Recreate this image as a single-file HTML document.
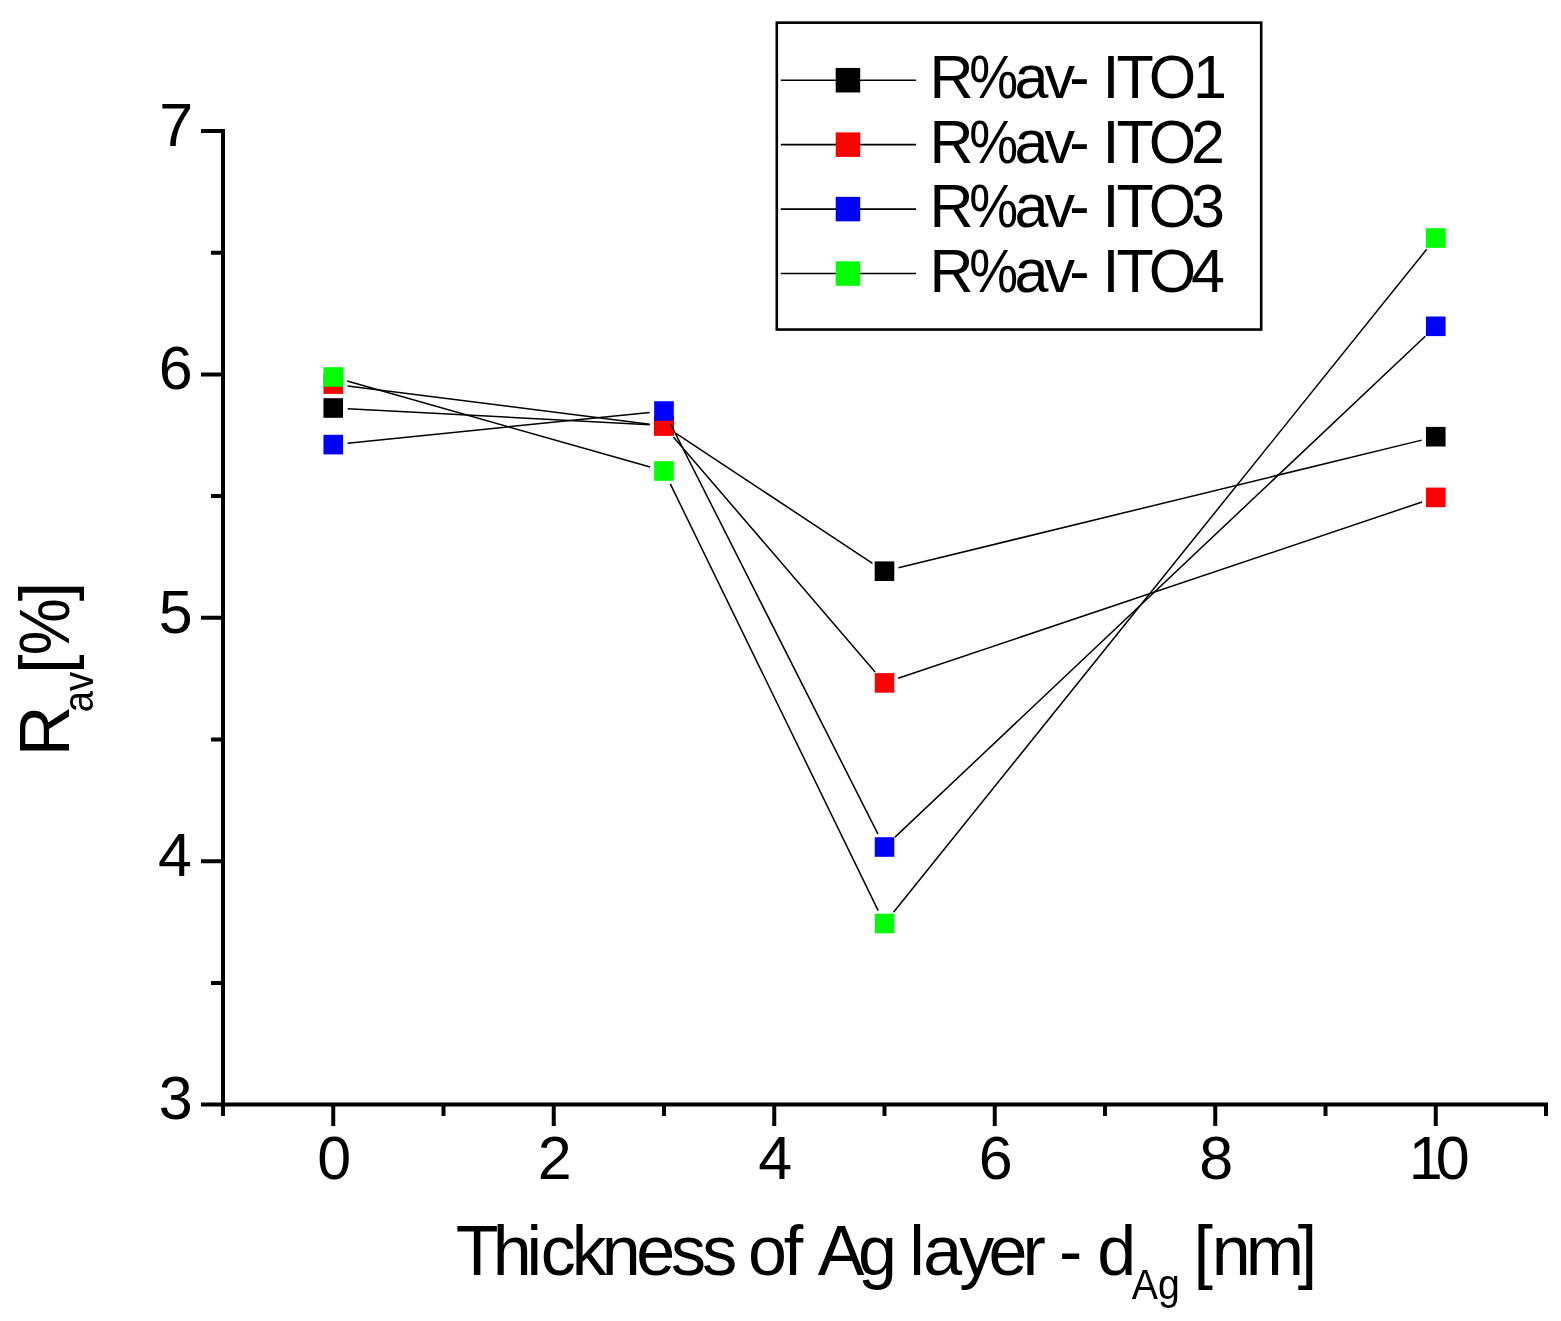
<!DOCTYPE html><html><head><meta charset="utf-8"><title>R_av vs Ag thickness</title><style>html,body{margin:0;padding:0;background:#fff;overflow:hidden;}svg{display:block;}text{font-family:"Liberation Sans",Arial,Helvetica,sans-serif;fill:#000;}</style></head><body>
<svg width="1561" height="1321" viewBox="0 0 1561 1321">
<rect width="1561" height="1321" fill="#fff"/>
<path d="M347.63 408.76L649.62 424.74M676.01 433.44L872.49 563.26M898.49 567.79L1421.76 440.11" stroke="#000" stroke-width="1.5" fill="none"/>
<rect x="323.45" y="398.20" width="19.6" height="19.6" fill="#000000"/>
<rect x="654.20" y="415.70" width="19.6" height="19.6" fill="#000000"/>
<rect x="874.70" y="561.40" width="19.6" height="19.6" fill="#000000"/>
<rect x="1425.95" y="426.90" width="19.6" height="19.6" fill="#000000"/>
<path d="M347.54 385.91L649.71 424.19M673.38 436.93L875.12 671.97M898.15 678.31L1422.10 501.99" stroke="#000" stroke-width="1.5" fill="none"/>
<rect x="323.45" y="374.30" width="19.6" height="19.6" fill="#ff0000"/>
<rect x="654.20" y="416.20" width="19.6" height="19.6" fill="#ff0000"/>
<rect x="874.70" y="673.10" width="19.6" height="19.6" fill="#ff0000"/>
<rect x="1425.95" y="487.60" width="19.6" height="19.6" fill="#ff0000"/>
<path d="M347.58 443.14L649.67 412.46M670.50 423.85L878.00 834.15M894.97 837.11L1425.28 336.19" stroke="#000" stroke-width="1.5" fill="none"/>
<rect x="323.45" y="434.80" width="19.6" height="19.6" fill="#0000ff"/>
<rect x="654.20" y="401.20" width="19.6" height="19.6" fill="#0000ff"/>
<rect x="874.70" y="837.20" width="19.6" height="19.6" fill="#0000ff"/>
<rect x="1425.95" y="316.50" width="19.6" height="19.6" fill="#0000ff"/>
<path d="M347.10 380.94L650.15 467.06M670.31 483.94L878.19 910.56M893.52 912.28L1426.73 249.22" stroke="#000" stroke-width="1.5" fill="none"/>
<rect x="323.45" y="367.20" width="19.6" height="19.6" fill="#00ff00"/>
<rect x="654.20" y="461.20" width="19.6" height="19.6" fill="#00ff00"/>
<rect x="874.70" y="913.70" width="19.6" height="19.6" fill="#00ff00"/>
<rect x="1425.95" y="228.20" width="19.6" height="19.6" fill="#00ff00"/>
<path d="M223 129V1106.5M201 1104.5H1548M201 1104.60H223M201 861.20H223M201 617.80H223M201 374.40H223M201 131.00H223M211 982.90H223M211 739.50H223M211 496.10H223M211 252.70H223M333.25 1104.5V1126M553.75 1104.5V1126M774.25 1104.5V1126M994.75 1104.5V1126M1215.25 1104.5V1126M1435.75 1104.5V1126M223.00 1104.5V1116M443.50 1104.5V1116M664.00 1104.5V1116M884.50 1104.5V1116M1105.00 1104.5V1116M1325.50 1104.5V1116M1546.00 1104.5V1116" stroke="#000" stroke-width="4" fill="none"/>
<text x="158.86" y="1119.40" font-size="61">3</text>
<text x="157.96" y="876.00" font-size="61">4</text>
<text x="158.74" y="632.60" font-size="61">5</text>
<text x="158.86" y="389.20" font-size="61">6</text>
<text x="159.24" y="145.80" font-size="61">7</text>
<text x="334.15" y="1179" font-size="61" text-anchor="middle">0</text>
<text x="554.65" y="1179" font-size="61" text-anchor="middle">2</text>
<text x="775.15" y="1179" font-size="61" text-anchor="middle">4</text>
<text x="995.65" y="1179" font-size="61" text-anchor="middle">6</text>
<text x="1216.15" y="1179" font-size="61" text-anchor="middle">8</text>
<text x="1408.8 1435.8" y="1179" font-size="61">10</text>
<text y="1274.9" font-size="70"><tspan x="455.73 492.65 526.62 540.73 571.68 601.75 636.33 671.05 702.35 732.85 747.96 783.81 798.76 817.86 858.06 892.49 909.28 923.33 959.23 988.43 1022.55 1041.36 1058.99 1077.80 1097.26">Thickness of Ag layer - d</tspan><tspan x="1131.82" y="1298.9" font-size="43" textLength="48.02" lengthAdjust="spacingAndGlyphs">Ag</tspan><tspan x="1186.40 1193.41 1211.65 1245.65 1297.65" y="1274.9"> [nm]</tspan></text>
<text transform="translate(68.9 752) rotate(-90)" font-size="70"><tspan x="-4.24" y="0">R</tspan><tspan x="39.68" y="23.6" font-size="43" textLength="40.3" lengthAdjust="spacingAndGlyphs">av</tspan><tspan x="77.91" y="0">[</tspan><tspan x="96.81" textLength="57.01" lengthAdjust="spacingAndGlyphs">%</tspan><tspan x="150.65">]</tspan></text>
<rect x="776.8" y="22.65" width="484.4" height="306.9" fill="none" stroke="#000" stroke-width="2.6"/>
<path d="M780.8 80.20H916.1" stroke="#000" stroke-width="1.6"/>
<rect x="835.7" y="67.95" width="24.5" height="24.5" fill="#000000"/>
<text y="98.00" font-size="61"><tspan x="929.60">R</tspan><tspan x="969.34" textLength="48.92" lengthAdjust="spacingAndGlyphs">%</tspan><tspan x="1014.41 1044.59 1069.29 1085.90 1102.57 1116.43 1148.81 1192.90">av- ITO1</tspan></text>
<path d="M780.8 144.65H916.1" stroke="#000" stroke-width="1.6"/>
<rect x="835.7" y="132.40" width="24.5" height="24.5" fill="#ff0000"/>
<text y="162.60" font-size="61"><tspan x="929.60">R</tspan><tspan x="969.34" textLength="48.92" lengthAdjust="spacingAndGlyphs">%</tspan><tspan x="1014.41 1044.59 1069.29 1085.90 1102.57 1116.43 1148.81 1191.00">av- ITO2</tspan></text>
<path d="M780.8 209.10H916.1" stroke="#000" stroke-width="1.6"/>
<rect x="835.7" y="196.85" width="24.5" height="24.5" fill="#0000ff"/>
<text y="227.20" font-size="61"><tspan x="929.60">R</tspan><tspan x="969.34" textLength="48.92" lengthAdjust="spacingAndGlyphs">%</tspan><tspan x="1014.41 1044.59 1069.29 1085.90 1102.57 1116.43 1148.81 1191.00">av- ITO3</tspan></text>
<path d="M780.8 273.55H916.1" stroke="#000" stroke-width="1.6"/>
<rect x="835.7" y="261.30" width="24.5" height="24.5" fill="#00ff00"/>
<text y="291.80" font-size="61"><tspan x="929.60">R</tspan><tspan x="969.34" textLength="48.92" lengthAdjust="spacingAndGlyphs">%</tspan><tspan x="1014.41 1044.59 1069.29 1085.90 1102.57 1116.43 1148.81 1191.00">av- ITO4</tspan></text>
</svg></body></html>
